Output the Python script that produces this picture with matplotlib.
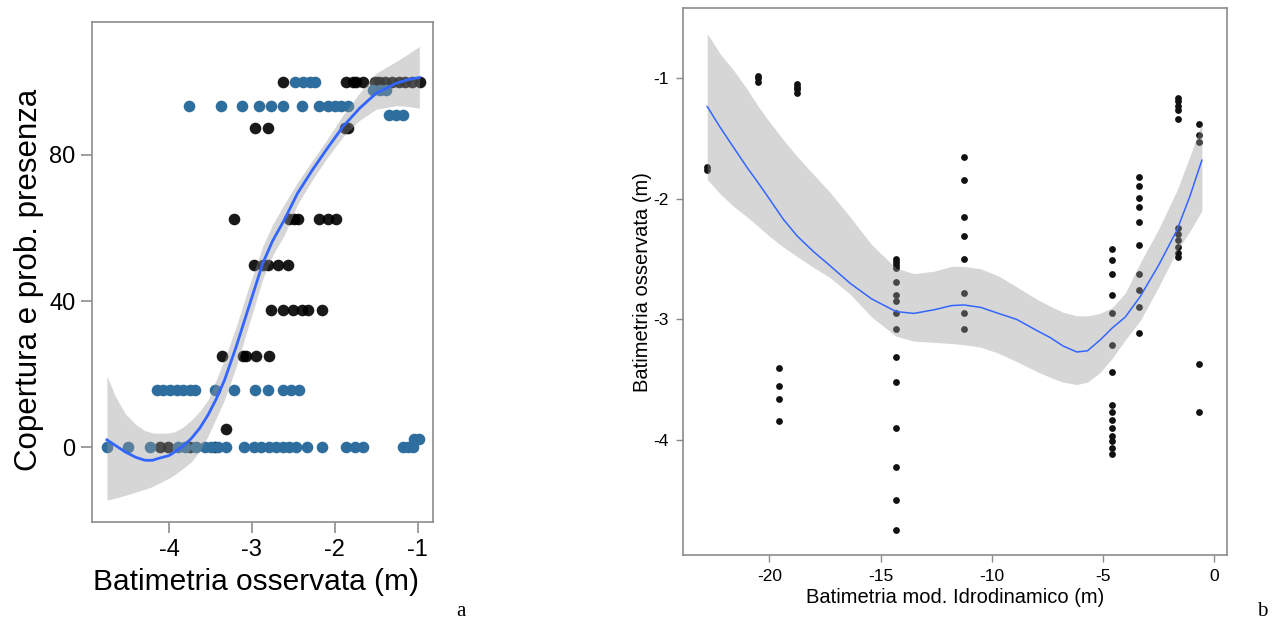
import matplotlib
matplotlib.use("Agg")
import matplotlib.pyplot as plt

plt.rcParams['font.family'] = ['Liberation Sans', 'DejaVu Sans']
plt.rcParams['axes.unicode_minus'] = False

# ---- panel a: observed depth vs cover / presence probability ----
a_black_x = [-2.63, -1.86, -1.78, -1.74, -1.66, -1.52, -1.47, -1.39, -1.31, -1.23, -1.15, -1.07, -0.97,
             -2.96, -2.81, -1.88, -1.84,
             -3.22, -2.55, -2.49, -2.45, -2.19, -2.08, -1.99,
             -2.97, -2.87, -2.81, -2.69, -2.57,
             -2.77, -2.63, -2.50, -2.39, -2.32, -2.16,
             -3.36, -3.11, -3.07, -2.95, -2.79,
             -3.31,
             -4.11, -4.01, -3.75, -3.45]
a_black_y = [100] * 13 + [87.5] * 4 + [62.5] * 7 + [50] * 5 + [37.5] * 6 + [25] * 5 + [5] + [0] * 4

a_blue_x = [-2.48, -2.38, -2.30, -2.24,
            -1.54, -1.46, -1.38,
            -3.76, -3.37, -3.12, -2.91, -2.77, -2.63, -2.39, -2.19, -2.08, -2.00, -1.92, -1.84,
            -1.34, -1.26, -1.18,
            -4.15, -4.07, -3.99, -3.91, -3.83, -3.75, -3.69, -3.44, -3.22, -2.96, -2.81, -2.63, -2.53, -2.43,
            -4.75, -4.49, -4.23, -3.89, -3.81, -3.67, -3.57, -3.49, -3.41, -3.31, -3.09, -2.97, -2.89,
            -2.79, -2.71, -2.63, -2.55, -2.47, -2.33, -2.15, -1.86, -1.76, -1.66, -1.18, -1.12, -1.06,
            -1.04, -0.98]
a_blue_y = [100] * 4 + [97.8] * 3 + [93.4] * 12 + [91] * 3 + [15.6] * 14 + [0] * 26 + [2.1] * 2

# smoother
a_fit_x = [-4.75, -4.65, -4.53, -4.40, -4.29, -4.20, -4.13, -4.00, -3.93, -3.83, -3.73, -3.63, -3.53, -3.43, -3.33,
           -3.19, -3.05, -2.87, -2.75, -2.61, -2.45, -2.27, -2.10, -1.90, -1.70, -1.50, -1.26, -1.12, -0.98]
a_fit_y = [2.0, 0.5, -1.3, -2.8, -3.6, -3.6, -3.1, -2.3, -1.3, 0.3, 2.4, 5.2, 8.8, 13.2, 18.4,
           27.5, 37.5, 50.3, 56.5, 62.2, 69.5, 75.9, 81.5, 87.8, 92.8, 96.9, 99.6, 100.6, 101.2]
a_fit_hi = [19.5, 14.0, 9.2, 6.2, 4.5, 3.9, 3.8, 3.9, 4.2, 5.5, 7.4, 9.8, 12.9, 18.5, 24.0,
            33.0, 43.0, 55.0, 61.0, 66.5, 72.5, 78.5, 84.0, 91.0, 97.0, 102.4, 105.6, 107.6, 109.7]
a_fit_lo = [-14.5, -14.0, -13.2, -12.3, -11.5, -10.8, -10.0, -8.5, -7.5, -5.8, -4.0, -1.0, 3.0, 8.0, 13.0,
            22.0, 32.5, 46.0, 52.5, 58.0, 66.5, 73.2, 79.0, 85.0, 89.5, 92.5, 93.5, 93.3, 92.8]

# ---- panel b: hydrodynamic model depth vs observed depth ----
b_cols = {
    -22.79: [-1.74, -1.76],
    -20.49: [-0.98, -1.00, -1.03],
    -19.58: [-3.40, -3.55, -3.66, -3.84],
    -18.74: [-1.05, -1.07, -1.09, -1.12],
    -14.30: [-2.50, -2.52, -2.55, -2.57, -2.69, -2.80, -2.85, -2.95, -3.08, -3.31, -3.52, -3.90, -4.22, -4.50, -4.75],
    -11.25: [-1.65, -1.84, -2.15, -2.31, -2.50, -2.78, -2.95, -3.08],
    -4.58: [-2.42, -2.51, -2.62, -2.80, -2.95, -3.21, -3.44, -3.71, -3.77, -3.83, -3.90, -3.97, -4.01, -4.07, -4.12],
    -3.37: [-1.82, -1.89, -1.99, -2.07, -2.19, -2.38, -2.62, -2.76, -2.90, -3.11],
    -1.64: [-1.16, -1.19, -1.23, -1.26, -1.34, -2.24, -2.29, -2.34, -2.40, -2.45, -2.48],
    -0.67: [-1.38, -1.47, -1.53, -3.37, -3.77],
}
b_x = [x for x, ys in b_cols.items() for _ in ys]
b_y = [y for ys in b_cols.values() for y in ys]

b_fit_x = [-22.79, -22.2, -21.62, -21.0, -20.49, -20.0, -19.37, -18.74, -18.0, -17.3, -16.37, -15.4, -14.3,
           -13.5, -12.6, -11.8, -11.25, -10.5, -9.7, -8.88, -8.0, -7.38, -6.8, -6.18, -5.7, -5.13, -4.58,
           -4.0, -3.33, -2.5, -1.68, -1.1, -0.56]
b_fit_y = [-1.235, -1.41, -1.57, -1.74, -1.87, -2.00, -2.17, -2.31, -2.44, -2.55, -2.70, -2.83, -2.935,
           -2.95, -2.92, -2.885, -2.88, -2.90, -2.95, -3.00, -3.09, -3.15, -3.22, -3.27, -3.26, -3.17, -3.07,
           -2.98, -2.81, -2.55, -2.26, -1.98, -1.68]
b_fit_hi = [-0.63, -0.80, -0.93, -1.09, -1.235, -1.36, -1.51, -1.65, -1.80, -1.94, -2.15, -2.38, -2.575,
            -2.62, -2.60, -2.56, -2.56, -2.58, -2.64, -2.73, -2.83, -2.89, -2.94, -2.97, -2.97, -2.95, -2.90,
            -2.78, -2.53, -2.25, -1.93, -1.65, -1.37]
b_fit_lo = [-1.84, -1.96, -2.06, -2.15, -2.23, -2.31, -2.40, -2.48, -2.57, -2.65, -2.79, -2.98, -3.14,
            -3.18, -3.19, -3.20, -3.21, -3.23, -3.28, -3.35, -3.43, -3.48, -3.52, -3.54, -3.52, -3.44, -3.32,
            -3.17, -3.01, -2.73, -2.43, -2.27, -2.10]

fig = plt.figure(figsize=(12.78, 6.26), dpi=100)
spine_col = '#8c8c8c'

# panel a
ax1 = fig.add_axes([92 / 1278, 1 - 522 / 626, (433 - 92) / 1278, 500 / 626])
ax1.scatter(a_black_x, a_black_y, s=70, color='black', alpha=0.9, linewidths=0, zorder=2)
ax1.scatter(a_blue_x, a_blue_y, s=70, color='#2e6e9e', linewidths=0, zorder=3)
ax1.fill_between(a_fit_x, a_fit_lo, a_fit_hi, color='#999999', alpha=0.4, linewidth=0, zorder=4)
ax1.plot(a_fit_x, a_fit_y, color='#3366ff', lw=2, zorder=5)
ax1.set_xlim(-4.93, -0.815)
ax1.set_ylim(-20.5, 116.4)
ax1.set_xticks([-4, -3, -2, -1])
ax1.set_yticks([0, 40, 80])
ax1.tick_params(labelsize=17, length=8, width=1.2, color=spine_col, pad=4)
ax1.set_xlabel('Batimetria osservata (m)', fontsize=21.5, labelpad=5)
ax1.set_ylabel('Copertura e prob. presenza', fontsize=22.5, labelpad=4)
ax1.xaxis.label.set_x(0.48)
ax1.yaxis.label.set_y(0.485)

# panel b
ax2 = fig.add_axes([683 / 1278, 1 - 555.3 / 626, (1226.7 - 683) / 1278, (555.3 - 8.3) / 626])
ax2.scatter(b_x, b_y, s=24, color='#111111', linewidths=0, zorder=2)
ax2.fill_between(b_fit_x, b_fit_lo, b_fit_hi, color='#999999', alpha=0.4, linewidth=0, zorder=4)
ax2.plot(b_fit_x, b_fit_y, color='#3366ff', lw=1.1, zorder=5)
ax2.set_xlim(-23.88, 0.557)
ax2.set_ylim(-4.956, -0.42)
ax2.set_xticks([-20, -15, -10, -5, 0])
ax2.set_yticks([-1, -2, -3, -4])
ax2.tick_params(labelsize=12.5, length=5, width=1, color=spine_col, pad=5)
ax2.set_xlabel('Batimetria mod. Idrodinamico (m)', fontsize=14.5, labelpad=3)
ax2.set_ylabel('Batimetria osservata (m)', fontsize=14.5, labelpad=1)

for ax in (ax1, ax2):
    for sp in ax.spines.values():
        sp.set_color(spine_col)
        sp.set_linewidth(1.2)

fig.text(461 / 1278, 1 - 612 / 626, 'a', fontsize=15, family='Liberation Serif', ha='center', va='center')
fig.text(1262 / 1278, 1 - 612 / 626, 'b', fontsize=15, family='Liberation Serif', ha='center', va='center')

fig.savefig('out.png', dpi=100)
